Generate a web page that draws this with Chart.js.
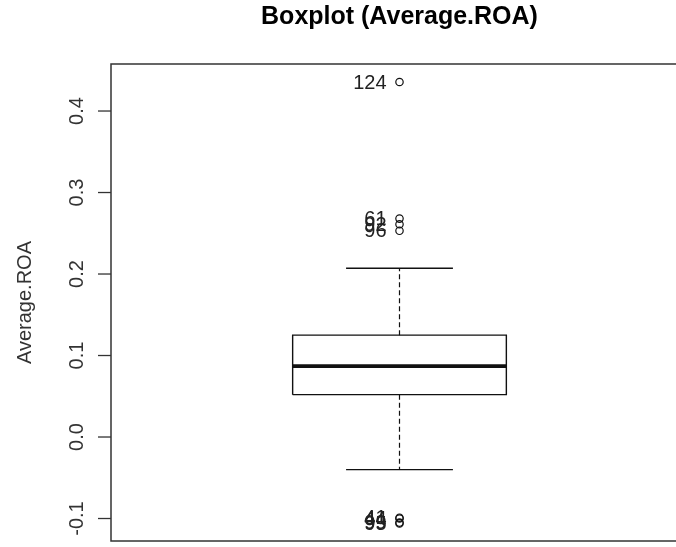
<!DOCTYPE html>
<html>
<head>
<meta charset="utf-8">
<script src="https://cdn.jsdelivr.net/npm/chart.js@4.4.1/dist/chart.umd.min.js"></script>
<style>
  html, body { margin: 0; padding: 0; background: #ffffff; overflow: hidden; width: 676px; height: 547px; }
  #c { display: block; }
</style>
</head>
<body>
<canvas id="c" width="700" height="547" style="width:700px;height:547px"></canvas>
<script>
// ---- data ----
const categories = ['Average.ROA'];
const boxStats = [0.052, 0.087, 0.125];          // Q1, median, Q3
const whiskerValues = [-0.040, 0.207];           // lower, upper whisker ends
const outlierValues = [0.4356, 0.268, 0.261, 0.253, -0.099, -0.100, -0.105, -0.106];
const outlierLabels = ['124', '61', '92', '96', '41', '44', '99', '95'];
const yTicks = [-0.1, 0.0, 0.1, 0.2, 0.3, 0.4];
const yTickLabels = ['-0.1', '0.0', '0.1', '0.2', '0.3', '0.4'];
const chartTitle = 'Boxplot (Average.ROA)';
const yAxisTitle = 'Average.ROA';

// ---- styling constants ----
const center = 1;
const boxHalf = 0.2;
const capHalf = 0.1;
const ink = '#111111';
const FONT = '"Liberation Sans", Arial, Helvetica, sans-serif';

const [q1, med, q3] = boxStats;
const [wLo, wHi] = whiskerValues;

const lineDs = (data, extra) => Object.assign({
  type: 'scatter', data, showLine: true, borderColor: ink, borderWidth: 1.4,
  pointRadius: 0, pointHoverRadius: 0, fill: false, tension: 0
}, extra || {});

const datasets = [
  lineDs([{x: center - boxHalf, y: q1}, {x: center + boxHalf, y: q1}, {x: center + boxHalf, y: q3},
          {x: center - boxHalf, y: q3}, {x: center - boxHalf, y: q1}], {label: categories[0] + ' box'}),
  lineDs([{x: center - boxHalf, y: med}, {x: center + boxHalf, y: med}], {borderWidth: 3.8, borderCapStyle: 'butt'}),
  lineDs([{x: center, y: q3}, {x: center, y: wHi}], {borderDash: [5, 3], borderWidth: 1.2}),
  lineDs([{x: center, y: q1}, {x: center, y: wLo}], {borderDash: [5, 3], borderWidth: 1.2}),
  lineDs([{x: center - capHalf, y: wHi}, {x: center + capHalf, y: wHi}]),
  lineDs([{x: center - capHalf, y: wLo}, {x: center + capHalf, y: wLo}]),
  {
    type: 'scatter',
    data: outlierValues.map(v => ({x: center, y: v})),
    pointStyle: 'circle', pointRadius: 3.7, pointBorderWidth: 1.2,
    pointBorderColor: ink, pointBackgroundColor: 'rgba(255,255,255,0)',
    borderColor: ink, backgroundColor: 'rgba(255,255,255,0)', showLine: false
  }
];

const decor = {
  id: 'decor',
  afterDraw(chart) {
    const ctx = chart.ctx;
    const a = chart.chartArea;
    const ys = chart.scales.y;
    const xs = chart.scales.x;
    ctx.save();
    // frame
    ctx.strokeStyle = '#333333';
    ctx.lineWidth = 1.5;
    ctx.strokeRect(a.left, a.top, a.right - a.left, a.bottom - a.top);
    // ticks + labels
    ctx.lineWidth = 1.3;
    ctx.fillStyle = '#333333';
    ctx.font = '20px ' + FONT;
    ys.ticks.forEach((t, i) => {
      const py = ys.getPixelForValue(t.value);
      ctx.beginPath();
      ctx.moveTo(a.left - 13, py);
      ctx.lineTo(a.left, py);
      ctx.stroke();
      ctx.save();
      ctx.translate(77, py);
      ctx.rotate(-Math.PI / 2);
      ctx.textAlign = 'center';
      ctx.textBaseline = 'middle';
      ctx.fillText(yTickLabels[i], 0, 0);
      ctx.restore();
    });
    // axis title
    ctx.save();
    ctx.translate(25, (a.top + a.bottom) / 2);
    ctx.rotate(-Math.PI / 2);
    ctx.textAlign = 'center';
    ctx.textBaseline = 'middle';
    ctx.fillText(yAxisTitle, 0, 0);
    ctx.restore();
    // main title
    ctx.fillStyle = '#000000';
    ctx.font = 'bold 25px ' + FONT;
    ctx.textAlign = 'center';
    ctx.textBaseline = 'alphabetic';
    ctx.fillText(chartTitle, (a.left + a.right) / 2, 24);
    // outlier labels
    ctx.fillStyle = '#222222';
    ctx.font = '20px ' + FONT;
    ctx.textAlign = 'right';
    ctx.textBaseline = 'middle';
    outlierValues.forEach((v, i) => {
      ctx.fillText(outlierLabels[i], xs.getPixelForValue(center) - 13, ys.getPixelForValue(v) + 1);
    });
    ctx.restore();
  }
};

new Chart(document.getElementById('c'), {
  type: 'scatter',
  data: { datasets },
  options: {
    responsive: false,
    animation: false,
    devicePixelRatio: 1,
    layout: { padding: { left: 111, top: 64, right: 12, bottom: 6 } },
    plugins: { legend: { display: false }, tooltip: { enabled: false }, title: { display: false } },
    scales: {
      x: { type: 'linear', min: 0.46, max: 1.54, display: false },
      y: {
        type: 'linear', min: -0.1276, max: 0.4577, display: false,
        afterBuildTicks: (s) => { s.ticks = yTicks.map(v => ({ value: v })); }
      }
    }
  },
  plugins: [decor]
});
</script>
</body>
</html>
